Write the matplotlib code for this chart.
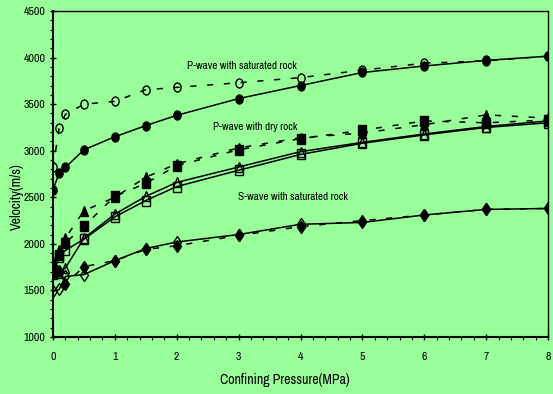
import numpy as np
import matplotlib
matplotlib.use('Agg')
from matplotlib import pyplot as plt
from matplotlib.ticker import MultipleLocator
from matplotlib.markers import MarkerStyle
from matplotlib.transforms import Affine2D

# confining pressure (MPa)
pressure = [0, 0.1, 0.2, 0.5, 1, 1.5, 2, 3, 4, 5, 6, 7, 8]

# P-wave, saturated rock
p_sat_filled = [2580, 2760, 2820, 3010, 3150, 3270, 3380, 3560, 3700, 3840, 3910, 3970, 4015]
p_sat_hollow = [2820, 3240, 3390, 3500, 3530, 3655, 3680, 3730, 3785, 3865, 3940, 3965, 4015]

# P-wave, dry rock
p_dry_square = [1720, 1880, 2010, 2190, 2510, 2650, 2840, 3010, 3130, 3220, 3320, 3300, 3330]
p_dry_triangle = [1800, 1930, 2060, 2355, 2500, 2715, 2860, 3030, 3140, 3190, 3280, 3385, 3350]
p_dry_square_h = [1680, 1860, 1930, 2050, 2290, 2465, 2615, 2790, 2960, 3080, 3170, 3250, 3300]
p_dry_triangle_h = [1700, 1690, 1740, 2060, 2320, 2510, 2660, 2825, 2990, 3090, 3180, 3260, 3320]

# S-wave, saturated rock
s_sat_hollow = [1490, 1510, 1650, 1670, 1820, 1950, 2020, 2100, 2210, 2230, 2310, 2370, 2380]
s_sat_filled = [1700, 1710, 1570, 1755, 1820, 1940, 1980, 2090, 2185, 2250, 2310, 2370, 2380]

bg = '#99ff99'
narrow = ['Archivo Narrow', 'DejaVu Sans']

fig = plt.figure(figsize=(5.53, 3.94), dpi=100, facecolor=bg)
ax = fig.add_axes([0.0958, 0.1447, 0.8952, 0.8273], facecolor=bg)


def mk(m, sx=0.8):
    # markers in the original look squeezed sideways
    return MarkerStyle(m, transform=Affine2D().scale(sx, 1.0))


solid = dict(color='black', lw=1.1, ls='-', ms=6.5)
dashed = dict(color='black', lw=1.1, ls=(0, (4, 7)), ms=6.5)

ax.plot(pressure, p_sat_hollow, marker=mk('o'), mfc='none', mec='black', **dashed)
ax.plot(pressure, p_sat_filled, marker=mk('o'), mfc='black', mec='black', **solid)

ax.plot(pressure, p_dry_square, marker=mk('s'), mfc='black', mec='black', **dashed)
ax.plot(pressure, p_dry_triangle, marker=mk('^'), mfc='black', mec='black', **dashed)
ax.plot(pressure, p_dry_square_h, marker=mk('s'), mfc='none', mec='black', **solid)
ax.plot(pressure, p_dry_triangle_h, marker=mk('^'), mfc='none', mec='black', **solid)

ax.plot(pressure, s_sat_filled, marker=mk('D', 0.6), mfc='black', mec='black', **dashed)
ax.plot(pressure, s_sat_hollow, marker=mk('D', 0.6), mfc='none', mec='black', **solid)

txt = dict(fontsize=8, family=narrow, ha='center', va='center')
ax.text(3.05, 3905, 'P-wave with saturated rock', **txt)
ax.text(3.26, 3258, 'P-wave with dry rock', **txt)
ax.text(3.88, 2503, 'S-wave with saturated rock', **txt)

ax.set_xlim(0, 8)
ax.set_ylim(1000, 4500)
ax.xaxis.set_major_locator(MultipleLocator(1))
ax.xaxis.set_minor_locator(MultipleLocator(0.2))
ax.yaxis.set_major_locator(MultipleLocator(500))
ax.yaxis.set_minor_locator(MultipleLocator(100))
ax.tick_params(which='major', direction='inout', length=5, width=1, labelsize=8.5, pad=8)
ax.tick_params(which='minor', direction='out', length=2.5, width=0.8)
ax.tick_params(axis='y', which='major', pad=3)
for lab in ax.get_xticklabels() + ax.get_yticklabels():
    lab.set_family(narrow)
    lab.set_fontweight('bold')

for s in ax.spines.values():
    s.set_linewidth(1)
ax.spines['left'].set_linewidth(1.5)
ax.spines['bottom'].set_linewidth(1.5)

ax.set_xlabel('Confining Pressure(MPa)', fontsize=10, family=narrow)
ax.set_ylabel('Velocity(m/s)', fontsize=10, family=narrow)
ax.xaxis.set_label_coords(0.469, -0.11)
ax.yaxis.set_label_coords(-0.058, 0.43)

fig.savefig('out.png', dpi=100, facecolor=bg)
